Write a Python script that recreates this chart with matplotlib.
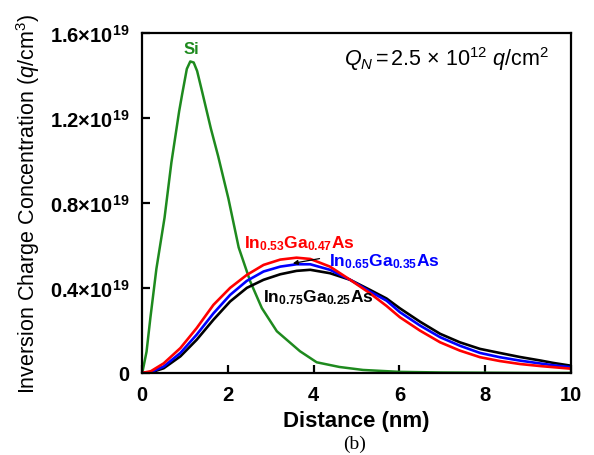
import matplotlib
matplotlib.use("Agg")
import matplotlib.pyplot as plt

plt.rcParams['font.family'] = ['Liberation Sans', 'DejaVu Sans']
plt.rcParams['mathtext.fontset'] = 'custom'
plt.rcParams['mathtext.rm'] = 'Liberation Sans'
plt.rcParams['mathtext.it'] = 'Liberation Sans:italic'
plt.rcParams['mathtext.bf'] = 'Liberation Sans:bold'

# Distance (nm) and inversion charge (units of 1e19 q/cm^3)
si_x = [0, 0.1, 0.19, 0.33, 0.52, 0.68, 0.86, 0.93, 1.04, 1.12, 1.2, 1.28, 1.4, 1.6, 1.77,
        2.01, 2.25, 2.52, 2.79, 3.14, 3.68, 4.07, 4.6, 5.15, 6.0, 7.0, 8.0, 9.0, 10.0]
si_y = [0, 0.10, 0.26, 0.49, 0.73, 0.99, 1.23, 1.31, 1.43, 1.465, 1.46, 1.42, 1.32, 1.15, 1.02,
        0.82, 0.59, 0.43, 0.305, 0.196, 0.102, 0.05, 0.028, 0.014, 0.005, 0.002, 0.001, 0.0, 0.0]

ingaas_x = [0, 0.2, 0.5, 0.89, 1.27, 1.66, 2.05, 2.44, 2.83, 3.22, 3.6, 3.92, 4.38, 4.85,
            5.31, 5.7, 6.01, 6.48, 6.95, 7.41, 7.88, 8.34, 8.81, 9.3, 9.59, 10.0]
in53_y = [0, 0.008, 0.045, 0.117, 0.211, 0.32, 0.40, 0.461, 0.508, 0.533, 0.542, 0.536, 0.50,
          0.438, 0.375, 0.315, 0.262, 0.199, 0.144, 0.105, 0.074, 0.056, 0.042, 0.032, 0.027, 0.02]
in65_y = [0, 0.004, 0.03, 0.094, 0.18, 0.28, 0.367, 0.433, 0.477, 0.50, 0.511, 0.511, 0.485,
          0.438, 0.383, 0.34, 0.286, 0.223, 0.168, 0.128, 0.094, 0.074, 0.058, 0.044, 0.036, 0.027]
in75_y = [0, 0.002, 0.022, 0.078, 0.156, 0.25, 0.336, 0.40, 0.438, 0.464, 0.48, 0.485, 0.469,
          0.438, 0.391, 0.35, 0.304, 0.241, 0.184, 0.144, 0.113, 0.094, 0.075, 0.058, 0.047, 0.034]

xticks = [0, 2, 4, 6, 8, 10]
yticks = [0, 0.4, 0.8, 1.2, 1.6]
ytick_labels = ['0', r'0.4×10$^{\mathbf{19}}$', r'0.8×10$^{\mathbf{19}}$',
                r'1.2×10$^{\mathbf{19}}$', r'1.6×10$^{\mathbf{19}}$']

green = '#1e8a1e'
fig = plt.figure(figsize=(5.94, 4.56), dpi=100)
ax = fig.add_axes([0.2395, 0.18, 0.7215, 0.746])

ax.plot(si_x, si_y, color=green, lw=1.8)
ax.plot(ingaas_x, in75_y, color='black', lw=1.9)
ax.plot(ingaas_x, in65_y, color='#0000ff', lw=1.9)
ax.plot(ingaas_x, in53_y, color='#ff0000', lw=1.9)

ax.set_xlim(0, 10)
ax.set_ylim(0, 1.6)
ax.set_xticks(xticks)
ax.set_yticks(yticks)
ax.set_xticklabels([str(t) for t in xticks], fontsize=14.5, fontweight='bold')
ax.set_yticklabels(ytick_labels, fontsize=14.5, fontweight='bold')
ax.tick_params(direction='in', length=6, width=1.6, top=False, right=False)
ax.tick_params(axis='x', pad=9)
ax.tick_params(axis='y', pad=9)
for s in ax.spines.values():
    s.set_linewidth(1.6)

ax.set_xlabel('Distance (nm)', fontsize=16, fontweight='bold', labelpad=4)
fig.text(28 / 594, 0.553, r'Inversion Charge Concentration ($q$/cm$^3$)', fontsize=15.5,
         rotation=90, ha='center', va='center')

ax.text(1.14, 1.525, 'Si', color=green, fontsize=12, fontweight='bold', ha='center', va='center')
ax.text(2.38, 0.593, r'In$_{\mathbf{0.53}}$Ga$_{\mathbf{0.47}}$As', color='#ff0000',
        fontsize=12.5, fontweight='bold', ha='left', va='baseline')
ax.text(4.36, 0.504, r'In$_{\mathbf{0.65}}$Ga$_{\mathbf{0.35}}$As', color='#0000ff',
        fontsize=12.5, fontweight='bold', ha='left', va='baseline')
ax.text(2.81, 0.339, r'In$_{\mathbf{0.75}}$Ga$_{\mathbf{0.25}}$As', color='black',
        fontsize=12.5, fontweight='bold', ha='left', va='baseline')
ax.annotate('', xy=(3.45, 0.513), xytext=(4.2, 0.54),
            arrowprops=dict(arrowstyle='-|>', color='black', lw=0.9, mutation_scale=7))

ax.text(9.5, 1.48, r'$Q_N\,$=$\,$2.5 × 10$^{12}$ $q$/cm$^2$', fontsize=15.5,
        ha='right', va='center')

fig.text(355 / 594, 0.026, '(b)', fontsize=14, ha='center', va='center', family='Liberation Serif')

fig.savefig('out.png', dpi=100)
